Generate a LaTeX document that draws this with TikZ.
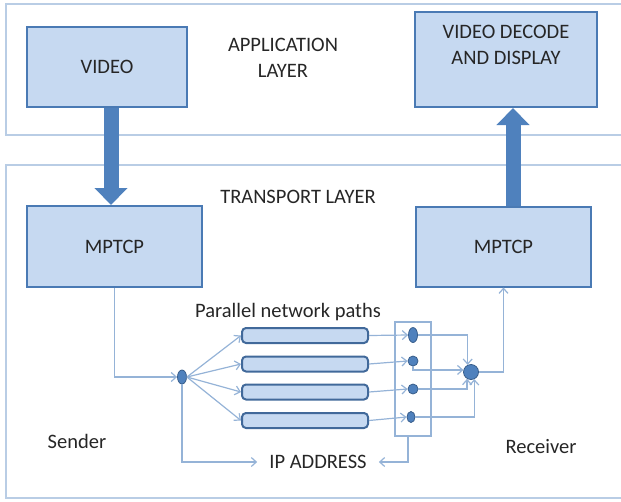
\documentclass[tikz,border=0pt]{standalone}
\usepackage{fontspec}
\setmainfont{Carlito}
\usetikzlibrary{arrows.meta,shapes.geometric}
\definecolor{boxfill}{HTML}{C6D9F1}
\definecolor{boxline}{HTML}{4A7AB4}
\definecolor{barline}{HTML}{41699A}
\definecolor{thinc}{HTML}{95B3D7}
\definecolor{layerline}{HTML}{B9CDE5}
\definecolor{arrowc}{HTML}{4F81BD}
\definecolor{knotfill}{HTML}{4F81BD}
\definecolor{knotline}{HTML}{385D8A}
\definecolor{textc}{HTML}{262626}
\begin{document}
\begin{tikzpicture}[x=1pt,y=-1pt,
  txt/.style={font=\fontsize{20.5}{26}\selectfont, text=textc, inner sep=0pt, align=center},
  block/.style={txt, draw=boxline, fill=boxfill, line width=2pt},
  pathbar/.style={draw=barline, fill=boxfill, line width=2pt, rounded corners=4pt,
    minimum width=126pt, minimum height=15pt, inner sep=0pt},
  conn/.style={draw=thinc, line width=1.2pt, -{Straight Barb[length=5pt,width=9pt]}},
  bigarrow/.style={draw=arrowc, line width=15pt, -{Triangle[length=17pt,width=32pt]}},
  knot/.style={ellipse, draw=knotline, fill=knotfill, line width=0.8pt, inner sep=0pt},
  layer/.style={draw=layerline, line width=1.8pt}
]
\useasboundingbox (0,0) rectangle (621,501);

% layer frames, running past the right edge
\begin{scope}
  \clip (0,0) rectangle (621,501);
  \draw[layer] (6,4) rectangle (640,135);
  \draw[layer] (6,165) rectangle (640,498);
\end{scope}

% layer titles
\node[txt] (applbl) at (283,58) {APPLICATION\\LAYER};
\node[txt] (translbl) at (298,197) {TRANSPORT LAYER};

% application and transport blocks
\node[block, minimum width=160pt, minimum height=80pt] (video) at (107,67) {VIDEO};
\node[block, minimum width=182pt, minimum height=95pt] (decode) at (506,59.5) {};
\node[txt] (decodetxt) at (506,45) {VIDEO DECODE\\AND DISPLAY};
\node[block, minimum width=175pt, minimum height=81pt] (mptcpL) at (114.5,246.5) {MPTCP};
\node[block, minimum width=175pt, minimum height=80pt] (mptcpR) at (503.5,246.5) {MPTCP};

% thick arrows between the layers
\draw[bigarrow] ([xshift=4pt]video.south) -- ([xshift=4pt]video.south |- mptcpL.north);
\draw[bigarrow] ([xshift=9.5pt]mptcpR.north) -- ([xshift=9.5pt]mptcpR.north |- decode.south);

% network paths
\node[txt] (pathlbl) at (288,312) {Parallel network paths};
\node[pathbar] (bar1) at (305,335.5) {};
\node[pathbar] (bar2) at (305,364) {};
\node[pathbar] (bar3) at (305,392) {};
\node[pathbar] (bar4) at (305,420.5) {};

% receiving gate
\node[draw=thinc, line width=1.2pt, minimum width=36pt, minimum height=114pt, inner sep=0pt] (gate) at (413,379) {};

% split and merge points
\node[knot, minimum width=9pt, minimum height=14pt] (oval) at (182,377) {};
\node[knot, minimum width=9pt, minimum height=15pt] (dot1) at (413,335) {};
\node[knot, minimum width=10pt, minimum height=10pt] (dot2) at (413,361) {};
\node[knot, minimum width=10pt, minimum height=10pt] (dot3) at (413,389) {};
\node[knot, minimum width=8pt, minimum height=11pt] (dot4) at (411,417) {};
\node[knot, minimum width=15pt, minimum height=15pt] (big) at (471,372) {};

% side labels
\node[txt] (sender) at (77,441) {Sender};
\node[txt] (receiver) at (541,447) {Receiver};
\node[txt, inner xsep=12pt] (ip) at (318,462) {IP ADDRESS};

% thin connectors
\draw[conn] (mptcpL.south) |- (oval.west);
\foreach \i in {1,...,4} {
  \draw[conn] (oval.east) -- (bar\i.west);
  \draw[conn] (bar\i.east) -- (dot\i.west);
}
\draw[conn] (dot1.east) -| (big.115);
\draw[conn] (dot2.south) |- (big.165);
\draw[conn] (dot3.east) -| (big.240);
\draw[conn] (dot4.east) -| (big.295);
\draw[conn] (big.east) -| (mptcpR.south);
\draw[conn] (oval.south) |- (ip.west);
\draw[conn] ([xshift=-5pt]gate.south) |- (ip.east);
\end{tikzpicture}
\end{document}
